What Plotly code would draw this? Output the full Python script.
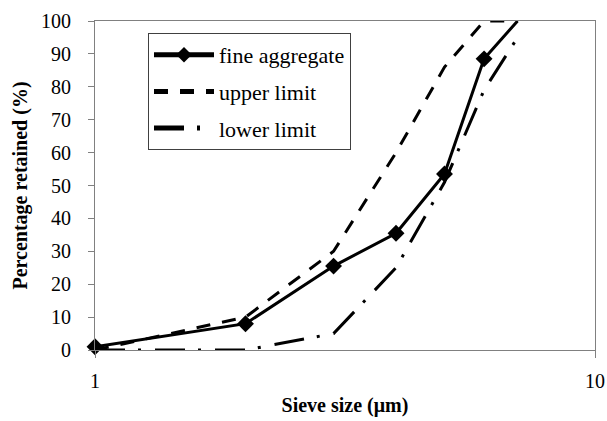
import plotly.graph_objects as go

sieve_size = [1, 2, 3, 4, 5, 6, 7]
fine_aggregate = [1, 8, 25.5, 35.5, 53.5, 88.5, 100]
upper_limit = [0, 10, 30, 60, 86, 100, 100]
lower_limit = [0, 0, 5, 25, 51, 79, 95]

y_ticks = list(range(0, 101, 10))
x_ticks = [1, 10]

FONT = "'Liberation Serif', 'Times New Roman', Times, serif"

marker_sizes = [13] * (len(sieve_size) - 1) + [0]

fig = go.Figure()
fig.add_trace(go.Scatter(
    x=sieve_size, y=fine_aggregate, name="fine aggregate", mode="lines+markers",
    line=dict(color="black", width=3),
    marker=dict(symbol="diamond", size=marker_sizes, color="black", opacity=1,
                line=dict(width=0, color="black")),
    cliponaxis=False,
    legendgroup="a"))
fig.add_trace(go.Scatter(
    x=sieve_size, y=upper_limit, name="upper limit", mode="lines",
    line=dict(color="black", width=3, dash="14px,12px"),
    legendgroup="b"))
fig.add_trace(go.Scatter(
    x=sieve_size, y=lower_limit, name="lower limit", mode="lines",
    line=dict(color="black", width=3, dash="30px,13px,3px,14px"),
    legendgroup="c"))

fig.update_layout(
    width=607, height=421,
    margin=dict(l=95, r=12, t=21, b=71),
    paper_bgcolor="white", plot_bgcolor="white",
    font=dict(family=FONT, size=20, color="black"),
    showlegend=True,
    legend=dict(
        x=0.106, y=0.9635, xanchor="left", yanchor="top",
        bgcolor="white", bordercolor="#404040", borderwidth=1,
        font=dict(family=FONT, size=22, color="black"),
        tracegroupgap=5,
        itemwidth=60,
        itemsizing="constant",
    ),
    xaxis=dict(
        type="log", range=[0, 1], automargin=False,
        tickmode="array", tickvals=x_ticks, ticktext=[str(v) for v in x_ticks],
        tickfont=dict(family=FONT, size=20),
        ticks="outside", ticklen=7, tickcolor="#808080",
        showline=True, linecolor="#808080", linewidth=1, mirror=True,
        showgrid=False, zeroline=False,
        ticklabelstandoff=6,
        title=dict(text="<b>Sieve size (μm)</b>", font=dict(family=FONT, size=20), standoff=6),
    ),
    yaxis=dict(
        range=[0, 100], automargin=False,
        tickmode="array", tickvals=y_ticks,
        tickfont=dict(family=FONT, size=20),
        ticks="outside", ticklen=6, tickcolor="#808080",
        showline=True, linecolor="#808080", linewidth=1, mirror=True,
        showgrid=False, zeroline=False,
        ticklabelstandoff=13,
        title=dict(text="<b>Percentage retained (%)</b>", font=dict(family=FONT, size=20), standoff=8),
    ),
)

fig.write_html("out.html")
